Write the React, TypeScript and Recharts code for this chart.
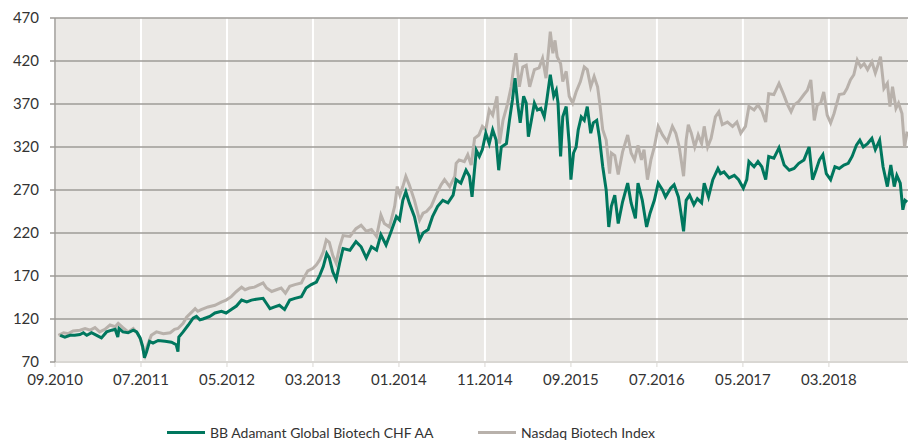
import React from 'react';
import {
  LineChart,
  Line,
  XAxis,
  YAxis,
  CartesianGrid
} from 'recharts';

// months since 09.2010
const indexMonths = [
  0.4, 1.0, 1.55, 2.1, 2.9, 3.5, 4.1, 4.65, 5.2, 5.8, 6.4, 7.0, 7.35, 7.9, 8.5, 9.1, 9.6, 9.95, 10.25, 10.45,
  10.7, 11.2, 11.8, 12.6, 13.4, 13.9, 14.3, 14.9, 15.3, 15.9, 16.3, 16.6, 17.0, 17.8, 18.6, 19.4, 19.9, 20.5, 21.1, 21.7,
  22.1, 22.6, 23.2, 23.6, 24.2, 24.6, 25.2, 25.75, 26.3, 26.8, 27.3, 27.9, 28.65, 29.0, 29.4, 30.0, 30.4, 30.8, 31.2, 31.55,
  31.9, 32.3, 32.7, 33.1, 33.5, 34.3, 35.0, 35.6, 36.2, 36.8, 37.4, 37.9, 38.3, 38.9, 39.5, 39.8, 40.1, 40.45, 40.8, 41.2,
  41.8, 42.4, 42.8, 43.2, 43.75, 44.3, 44.9, 45.3, 45.9, 46.5, 46.65, 47.0, 47.6, 48.0, 48.4, 48.8, 49.3, 49.7, 50.1, 50.5,
  50.9, 51.4, 51.7, 52.1, 52.65, 53.05, 53.35, 53.6, 54.0, 54.4, 54.8, 55.2, 55.75, 56.3, 56.7, 57.1, 57.6, 57.9, 58.15, 58.4,
  58.8, 59.05, 59.45, 59.8, 60.2, 60.6, 61.1, 61.55, 61.9, 62.3, 62.7, 63.1, 63.4, 63.7, 64.1, 64.5, 64.7, 65.1, 65.5, 66.0,
  66.6, 67.0, 67.4, 67.8, 68.2, 68.5, 68.9, 69.3, 69.7, 70.15, 70.65, 71.2, 71.8, 72.2, 72.6, 73.1, 73.4, 73.65, 74.0, 74.4,
  74.8, 75.2, 75.5, 75.9, 76.3, 76.8, 77.2, 77.6, 78.2, 78.8, 79.3, 79.75, 80.3, 80.7, 81.3, 81.75, 82.2, 82.65, 83.0, 83.6,
  84.2, 84.7, 85.2, 85.6, 85.95, 86.5, 87.1, 87.5, 87.9, 88.3, 88.65, 89.05, 89.4, 89.8, 90.2, 90.6, 91.2, 91.75, 92.1, 92.5,
  92.9, 93.3, 93.7, 94.1, 94.5, 95.0, 95.4, 95.7, 96.0, 96.4, 96.8, 97.1, 97.4, 97.8, 98.1, 98.5, 98.8, 99.1
];
const indexValues = [
  101, 104, 103, 106, 107, 109, 107, 110, 105, 108, 113, 111, 115, 110, 105, 109, 103, 96, 84, 78,
  88, 101, 105, 103, 104, 108, 109, 115, 122, 128, 132, 129, 131, 134, 136, 140, 142, 146, 152, 157,
  154, 156, 157, 159, 162, 156, 152, 154, 156, 150, 158, 160, 162, 169, 176, 179, 183, 189, 198, 212,
  209, 194, 185, 204, 217, 216, 225, 229, 222, 224, 216, 241, 231, 227, 251, 274, 264, 274, 286, 276,
  258, 235, 243, 245, 251, 264, 276, 282, 274, 286, 301, 305, 303, 311, 299, 330, 334, 344, 340, 363,
  357, 379, 324, 351, 371, 390, 413, 429, 390, 413, 415, 390, 410, 412, 423, 400, 454, 429, 444, 425,
  417, 396, 408, 379, 371, 384, 396, 413, 410, 390, 402, 390, 367, 340, 328, 289, 313, 310, 288, 314,
  334, 313, 305, 322, 305, 317, 282, 305, 320, 344, 334, 326, 344, 336, 320, 286, 328, 346, 336, 320,
  334, 324, 344, 320, 330, 355, 361, 346, 349, 344, 349, 336, 344, 367, 363, 369, 362, 349, 382, 381,
  394, 382, 369, 361, 369, 373, 381, 386, 398, 351, 369, 371, 384, 357, 348, 359, 381, 382, 388, 398,
  404, 421, 413, 417, 410, 419, 406, 415, 425, 388, 394, 367, 390, 365, 371, 359, 320, 338
];

const fundMonths = [
  0.6, 1.15, 1.75, 2.3, 2.9, 3.3, 3.7, 4.25, 4.85, 5.4, 6.0, 6.6, 7.0, 7.3, 7.45, 7.9, 8.5, 9.1, 9.5, 9.9,
  10.2, 10.4, 10.65, 11.0, 11.4, 12.0, 12.8, 13.55, 14.1, 14.3, 14.4, 14.9, 15.5, 16.06, 16.45, 16.85, 17.2, 18.0, 18.6, 19.36,
  19.9, 20.5, 21.1, 21.7, 22.3, 22.85, 23.4, 24.2, 24.6, 25.0, 25.55, 26.1, 26.7, 27.3, 27.9, 28.65, 29.2, 29.8, 30.4, 30.8,
  31.2, 31.6, 31.9, 32.3, 32.7, 33.1, 33.5, 34.3, 35.0, 35.6, 36.2, 36.8, 37.4, 37.9, 38.5, 39.1, 39.7, 40.07, 40.45, 40.8,
  41.2, 41.8, 42.4, 42.8, 43.4, 43.9, 44.5, 45.1, 45.7, 46.3, 46.65, 47.2, 47.8, 48.2, 48.5, 48.8, 49.0, 49.35, 49.7, 50.1,
  50.5, 50.9, 51.3, 51.6, 51.9, 52.5, 52.85, 53.2, 53.5, 53.8, 54.1, 54.5, 54.8, 55.05, 55.4, 55.75, 56.1, 56.5, 56.9, 57.2,
  57.6, 58.0, 58.3, 58.5, 58.8, 59.05, 59.45, 59.8, 60.0, 60.3, 60.6, 60.85, 61.2, 61.55, 61.9, 62.3, 62.6, 63.0, 63.3, 63.7,
  64.1, 64.4, 64.7, 65.1, 65.5, 66.0, 66.6, 67.0, 67.5, 67.8, 68.3, 68.8, 69.2, 69.7, 70.15, 70.65, 71.0, 71.6, 72.0, 72.5,
  72.8, 73.1, 73.4, 73.8, 74.3, 74.7, 75.2, 75.5, 76.0, 76.5, 77.1, 77.4, 77.8, 78.4, 79.0, 79.5, 80.05, 80.45, 80.7, 81.3,
  81.75, 82.2, 82.65, 83.0, 83.6, 84.2, 84.8, 85.4, 85.95, 86.5, 87.1, 87.7, 88.1, 88.5, 88.9, 89.3, 89.7, 90.2, 90.7, 91.2,
  91.75, 92.25, 92.7, 93.2, 93.6, 94.0, 94.5, 95.0, 95.4, 95.9, 96.3, 96.8, 97.2, 97.6, 97.9, 98.3, 98.6, 98.85, 99.1
];
const fundValues = [
  101, 99, 101, 101, 102, 104, 101, 104, 101, 98, 105, 107, 108, 99, 109, 105, 104, 107, 105, 98,
  88, 75, 82, 94, 92, 95, 94, 93, 90, 82, 99, 105, 113, 121, 123, 119, 120, 123, 127, 129,
  127, 131, 135, 142, 140, 142, 143, 144, 138, 132, 134, 136, 131, 142, 144, 146, 156, 160, 163, 171,
  181, 196, 191, 175, 166, 185, 202, 200, 210, 204, 191, 204, 200, 218, 206, 222, 239, 235, 258, 268,
  255, 239, 212, 220, 224, 239, 251, 258, 255, 264, 282, 278, 293, 286, 262, 295, 316, 309, 317, 336,
  324, 340, 328, 293, 320, 324, 351, 375, 400, 371, 348, 379, 371, 332, 351, 371, 363, 365, 355, 375,
  404, 379, 386, 371, 309, 355, 367, 324, 282, 313, 320, 340, 355, 351, 367, 336, 348, 351, 332, 297,
  270, 227, 251, 264, 231, 256, 278, 255, 237, 278, 258, 227, 243, 258, 278, 270, 262, 272, 276, 262,
  243, 222, 258, 264, 253, 260, 255, 278, 262, 282, 295, 289, 291, 284, 287, 282, 272, 282, 303, 297,
  303, 297, 282, 309, 307, 319, 299, 293, 295, 301, 305, 320, 282, 293, 305, 311, 289, 282, 297, 295,
  299, 301, 309, 322, 328, 320, 324, 330, 317, 328, 297, 274, 299, 274, 287, 278, 247, 258, 256
];

const tickMonths = [0, 10, 20, 30, 40, 50, 60, 70, 80, 90];
const tickLabels = ['09.2010', '07.2011', '05.2012', '03.2013', '01.2014', '11.2014', '09.2015', '07.2016', '05.2017', '03.2018'];
const valueTicks = [70, 120, 170, 220, 270, 320, 370, 420, 470];

const fundName = 'BB Adamant Global Biotech CHF AA';
const indexName = 'Nasdaq Biotech Index';

const GREEN = '#00775e';
const GREY = '#b8b1ab';
const FONT = 'Lato, "Open Sans", sans-serif';

const indexData = indexMonths.map((t, i) => ({ t, v: indexValues[i] }));
const fundData = fundMonths.map((t, i) => ({ t, v: fundValues[i] }));

function LegendItem({ color, label, left }: { color: string; label: string; left: number }) {
  return (
    <div style={{ position: 'absolute', left, top: 424, display: 'flex', alignItems: 'center', whiteSpace: 'nowrap' }}>
      <span style={{ display: 'inline-block', width: 38, height: 3, background: color, marginRight: 5 }} />
      <span style={{ fontFamily: FONT, fontSize: 14, color: '#333' }}>{label}</span>
    </div>
  );
}

export default function App() {
  return (
    <div style={{ position: 'absolute', left: 0, top: 0, width: 914, height: 444, background: '#fff' }}>
      <LineChart width={914} height={400} margin={{ top: 18, right: 6, bottom: 0, left: 0 }}>
        <CartesianGrid fill="#ebe9e6" horizontal={false} stroke="#ffffff" strokeWidth={2} />
        <CartesianGrid fill="none" vertical={false} stroke="#9e9b97" strokeWidth={1.5} />
        <XAxis
          dataKey="t"
          type="number"
          domain={[0, 99.2]}
          ticks={tickMonths}
          tickFormatter={(m: number) => tickLabels[tickMonths.indexOf(m)] ?? ''}
          allowDataOverflow
          height={38}
          axisLine={{ stroke: '#d9d7d3', strokeWidth: 2 }}
          tickLine={{ stroke: '#d9d7d3' }}
          tickSize={5}
          tickMargin={7}
          tick={{ fill: '#333', fontSize: 15, fontFamily: FONT }}
        />
        <YAxis
          type="number"
          domain={[70, 470]}
          ticks={valueTicks}
          width={55}
          axisLine={{ stroke: '#9e9b97', strokeWidth: 1.5 }}
          tickLine={{ stroke: '#9e9b97', strokeWidth: 1.5 }}
          tickSize={5}
          tickMargin={11}
          tick={{ fill: '#333', fontSize: 15, fontFamily: FONT }}
        />
        <Line
          data={indexData}
          dataKey="v"
          name={indexName}
          type="linear"
          stroke={GREY}
          strokeWidth={3}
          dot={false}
          isAnimationActive={false}
        />
        <Line
          data={fundData}
          dataKey="v"
          name={fundName}
          type="linear"
          stroke={GREEN}
          strokeWidth={3}
          dot={false}
          isAnimationActive={false}
        />
      </LineChart>
      <LegendItem color={GREEN} label={fundName} left={167} />
      <LegendItem color={GREY} label={indexName} left={478} />
    </div>
  );
}
